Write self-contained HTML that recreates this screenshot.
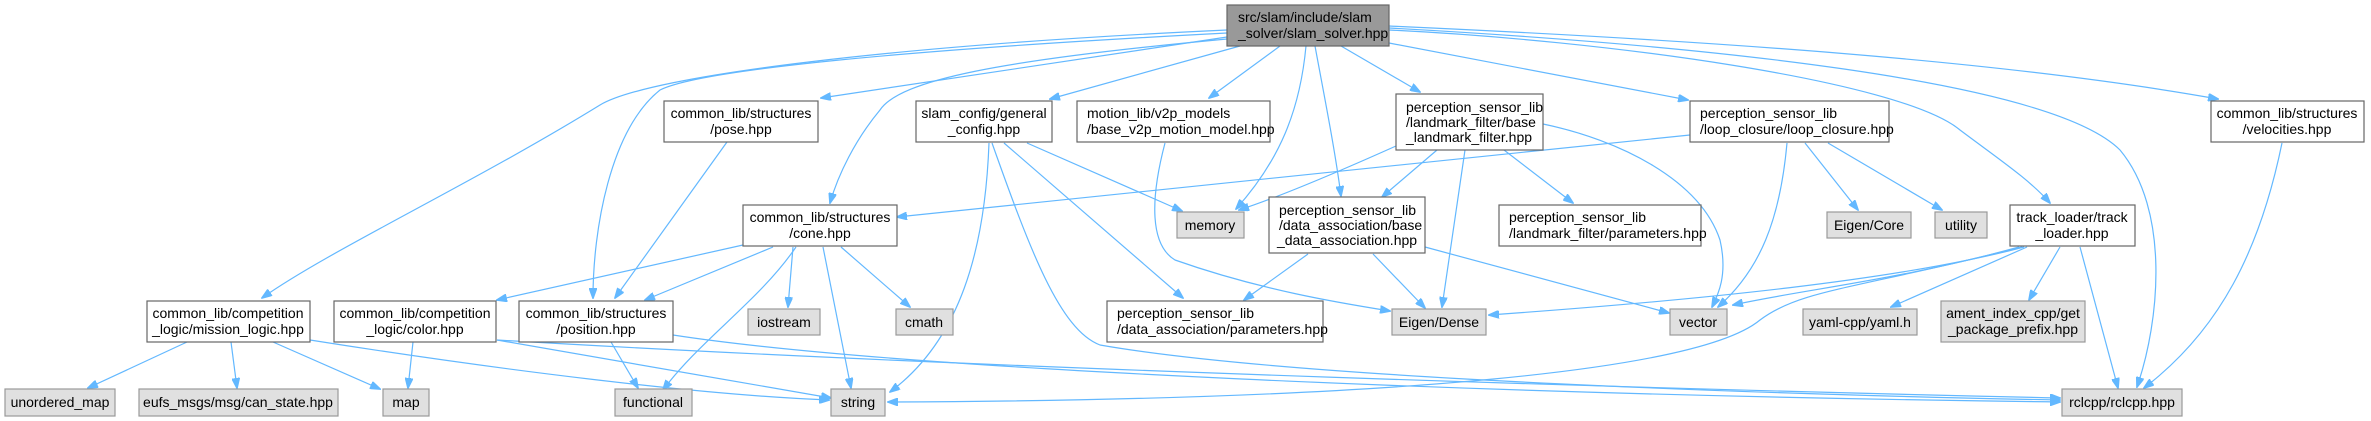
<!DOCTYPE html>
<html><head><meta charset="utf-8"><style>
html,body{margin:0;padding:0;background:#fff;}
svg{display:block;}
text{font-family:"Liberation Sans",Arial,sans-serif;font-size:14px;fill:#000;}
.e{fill:none;stroke:#63b8ff;stroke-width:1.2;marker-end:url(#a);}
.w{fill:#fff;stroke:#666;stroke-width:1.2;}
.g{fill:#e0e0e0;stroke:#999;stroke-width:1.2;}
.m{fill:#999;stroke:#666;stroke-width:1.2;}
</style></head><body>
<svg width="2371" height="421" viewBox="0 0 2371 421" xmlns="http://www.w3.org/2000/svg">
<defs><marker id="a" markerWidth="11" markerHeight="8" refX="10" refY="4" orient="auto" markerUnits="userSpaceOnUse"><path d="M0,0 L11,4 L0,8 Z" fill="#63b8ff" stroke="#63b8ff"/></marker></defs>
<!-- edges from slam_solver -->
<path class="e" d="M1227,30 C900,45 650,75 600,105 C470,185 330,250 262,298"/>
<path class="e" d="M1227,33 C900,50 700,70 660,90 C610,130 593,230 593,298"/>
<path class="e" d="M1227,37 L821,98"/>
<path class="e" d="M1227,39 C1000,60 900,80 880,110 C855,140 838,175 830,203"/>
<path class="e" d="M1240,46 L1050,99"/>
<path class="e" d="M1280,46 L1209,98"/>
<path class="e" d="M1306,46 C1300,110 1280,160 1236,209"/>
<path class="e" d="M1315,46 C1325,100 1335,150 1341,196"/>
<path class="e" d="M1341,46 L1420,92"/>
<path class="e" d="M1389,43 L1688,100"/>
<path class="e" d="M1389,30 C1600,40 1900,80 1960,130 C2000,160 2030,180 2050,203"/>
<path class="e" d="M1389,28 C1700,45 2050,80 2120,150 C2170,210 2160,320 2137,387"/>
<path class="e" d="M1389,26 C1700,40 2000,60 2218,99"/>
<!-- other edges -->
<path class="e" d="M727,142 L615,298"/>
<path class="e" d="M1027,143 L1182,211"/>
<path class="e" d="M989,143 C985,250 960,340 890,392"/>
<path class="e" d="M1004,143 L1183,298"/>
<path class="e" d="M992,143 C1030,250 1060,330 1100,345 C1300,380 1800,395 2060,400"/>
<path class="e" d="M1165,143 C1150,200 1150,245 1175,260 C1260,290 1340,303 1390,311"/>
<path class="e" d="M1396,146 C1320,180 1270,200 1239,210"/>
<path class="e" d="M1437,150 L1382,197"/>
<path class="e" d="M1465,150 L1442,307"/>
<path class="e" d="M1504,150 L1573,203"/>
<path class="e" d="M1543,124 C1620,140 1700,180 1720,240 C1728,275 1718,295 1712,307"/>
<path class="e" d="M1690,135 L897,217"/>
<path class="e" d="M1787,143 C1780,220 1760,270 1718,307"/>
<path class="e" d="M1805,143 L1858,210"/>
<path class="e" d="M1828,143 L1942,210"/>
<path class="e" d="M1308,254 L1244,300"/>
<path class="e" d="M1373,254 L1425,308"/>
<path class="e" d="M1425,247 L1669,313"/>
<path class="e" d="M2024,247 C1900,280 1700,300 1489,315"/>
<path class="e" d="M2019,247 C1900,280 1800,290 1733,305"/>
<path class="e" d="M2022,247 C1850,290 1800,290 1760,320 C1700,370 1400,400 888,402"/>
<path class="e" d="M2027,247 L1891,307"/>
<path class="e" d="M2060,247 L2029,300"/>
<path class="e" d="M2080,247 L2118,388"/>
<path class="e" d="M2282,143 C2260,250 2220,330 2144,388"/>
<path class="e" d="M743,245 L497,300"/>
<path class="e" d="M773,247 L645,300"/>
<path class="e" d="M796,247 C760,300 700,340 663,390"/>
<path class="e" d="M793,247 L788,307"/>
<path class="e" d="M841,247 L910,307"/>
<path class="e" d="M823,247 L851,388"/>
<path class="e" d="M187,342 L88,388"/>
<path class="e" d="M231,342 L237,388"/>
<path class="e" d="M273,342 L380,389"/>
<path class="e" d="M310,340 C500,370 700,395 829,400"/>
<path class="e" d="M413,342 L408,388"/>
<path class="e" d="M497,340 L831,398"/>
<path class="e" d="M611,342 L638,388"/>
<path class="e" d="M673,335 C900,370 1500,395 2060,402"/>
<path class="e" d="M497,340 C1000,370 1700,390 2060,398"/>
<!-- nodes -->
<rect class="m" x="1227" y="5" width="162" height="41"/>
<text x="1238" y="22">src/slam/include/slam</text><text x="1238" y="38">_solver/slam_solver.hpp</text>

<rect class="w" x="664" y="101" width="154" height="41"/>
<text x="741" y="118" text-anchor="middle">common_lib/structures</text><text x="741" y="134" text-anchor="middle">/pose.hpp</text>

<rect class="w" x="916" y="101" width="136" height="41"/>
<text x="984" y="118" text-anchor="middle">slam_config/general</text><text x="984" y="134" text-anchor="middle">_config.hpp</text>

<rect class="w" x="1077" y="101" width="193" height="41"/>
<text x="1087" y="118">motion_lib/v2p_models</text><text x="1087" y="134">/base_v2p_motion_model.hpp</text>

<rect class="w" x="1396" y="94" width="147" height="56"/>
<text x="1406" y="112">perception_sensor_lib</text><text x="1406" y="127">/landmark_filter/base</text><text x="1469" y="142" text-anchor="middle">_landmark_filter.hpp</text>

<rect class="w" x="1690" y="101" width="199" height="41"/>
<text x="1700" y="118">perception_sensor_lib</text><text x="1700" y="134">/loop_closure/loop_closure.hpp</text>

<rect class="w" x="2211" y="101" width="153" height="41"/>
<text x="2287" y="118" text-anchor="middle">common_lib/structures</text><text x="2287" y="134" text-anchor="middle">/velocities.hpp</text>

<rect class="w" x="743" y="205" width="154" height="41"/>
<text x="820" y="222" text-anchor="middle">common_lib/structures</text><text x="820" y="238" text-anchor="middle">/cone.hpp</text>

<rect class="g" x="1177" y="212" width="67" height="26"/>
<text x="1210" y="230" text-anchor="middle">memory</text>

<rect class="w" x="1269" y="197" width="156" height="56"/>
<text x="1279" y="215">perception_sensor_lib</text><text x="1279" y="230">/data_association/base</text><text x="1347" y="245" text-anchor="middle">_data_association.hpp</text>

<rect class="w" x="1499" y="205" width="202" height="41"/>
<text x="1509" y="222">perception_sensor_lib</text><text x="1509" y="238">/landmark_filter/parameters.hpp</text>

<rect class="g" x="1827" y="212" width="84" height="26"/>
<text x="1869" y="230" text-anchor="middle">Eigen/Core</text>

<rect class="g" x="1935" y="212" width="52" height="26"/>
<text x="1961" y="230" text-anchor="middle">utility</text>

<rect class="w" x="2010" y="205" width="125" height="41"/>
<text x="2072" y="222" text-anchor="middle">track_loader/track</text><text x="2072" y="238" text-anchor="middle">_loader.hpp</text>

<rect class="w" x="96" y="301" width="106" height="41" style="display:none"/>
<rect class="w" x="147" y="301" width="163" height="41"/>
<text x="228" y="318" text-anchor="middle">common_lib/competition</text><text x="228" y="334" text-anchor="middle">_logic/mission_logic.hpp</text>

<rect class="w" x="334" y="301" width="162" height="41"/>
<text x="415" y="318" text-anchor="middle">common_lib/competition</text><text x="415" y="334" text-anchor="middle">_logic/color.hpp</text>

<rect class="w" x="519" y="301" width="154" height="41"/>
<text x="596" y="318" text-anchor="middle">common_lib/structures</text><text x="596" y="334" text-anchor="middle">/position.hpp</text>

<rect class="g" x="748" y="309" width="72" height="26"/>
<text x="784" y="327" text-anchor="middle">iostream</text>

<rect class="g" x="896" y="309" width="57" height="26"/>
<text x="924" y="327" text-anchor="middle">cmath</text>

<rect class="w" x="1107" y="301" width="216" height="41"/>
<text x="1117" y="318">perception_sensor_lib</text><text x="1117" y="334">/data_association/parameters.hpp</text>

<rect class="g" x="1392" y="309" width="94" height="26"/>
<text x="1439" y="327" text-anchor="middle">Eigen/Dense</text>

<rect class="g" x="1670" y="309" width="57" height="26"/>
<text x="1698" y="327" text-anchor="middle">vector</text>

<rect class="g" x="1803" y="309" width="114" height="26"/>
<text x="1860" y="327" text-anchor="middle">yaml-cpp/yaml.h</text>

<rect class="g" x="1941" y="301" width="144" height="41"/>
<text x="2013" y="318" text-anchor="middle">ament_index_cpp/get</text><text x="2013" y="334" text-anchor="middle">_package_prefix.hpp</text>

<rect class="g" x="5" y="389" width="110" height="27"/>
<text x="60" y="407" text-anchor="middle">unordered_map</text>

<rect class="g" x="139" y="389" width="199" height="27"/>
<text x="238" y="407" text-anchor="middle">eufs_msgs/msg/can_state.hpp</text>

<rect class="g" x="383" y="389" width="46" height="27"/>
<text x="406" y="407" text-anchor="middle">map</text>

<rect class="g" x="615" y="389" width="77" height="27"/>
<text x="653" y="407" text-anchor="middle">functional</text>

<rect class="g" x="831" y="389" width="54" height="27"/>
<text x="858" y="407" text-anchor="middle">string</text>

<rect class="g" x="2062" y="389" width="120" height="27"/>
<text x="2122" y="407" text-anchor="middle">rclcpp/rclcpp.hpp</text>
</svg>
</body></html>
